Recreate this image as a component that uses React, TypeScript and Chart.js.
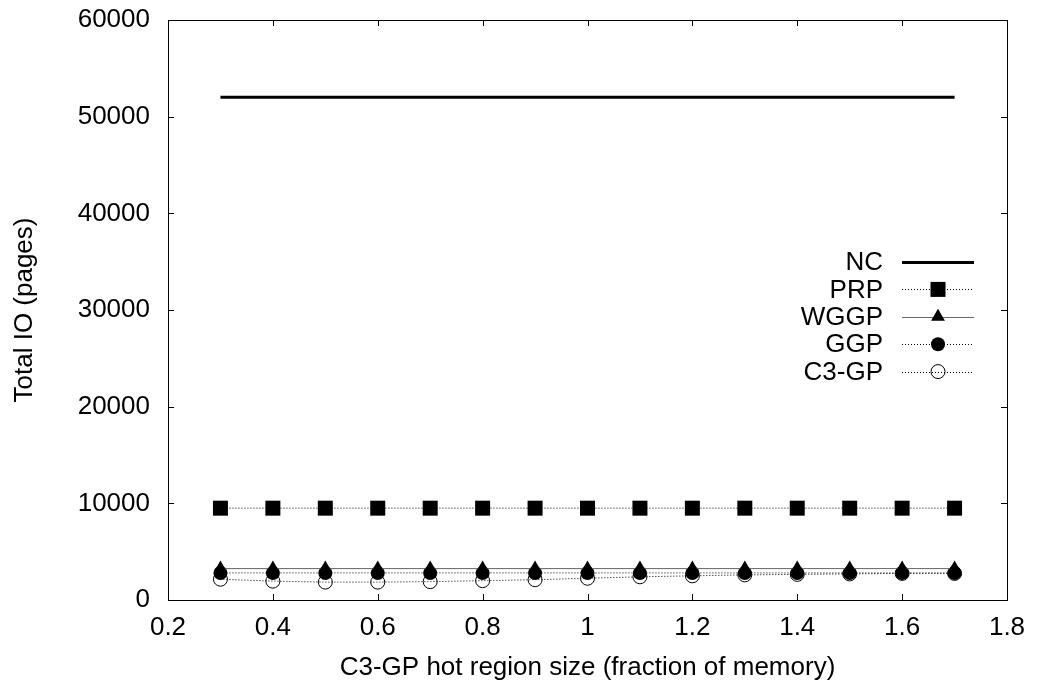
import React, { useEffect, useRef } from 'react';
import { Chart, registerables } from 'chart.js';

Chart.register(...registerables);

// ---- data ----
const hotRegionSize = [0.3, 0.4, 0.5, 0.6, 0.7, 0.8, 0.9, 1.0, 1.1, 1.2, 1.3, 1.4, 1.5, 1.6, 1.7];
const ncIO = [52000, 52000, 52000, 52000, 52000, 52000, 52000, 52000, 52000, 52000, 52000, 52000, 52000, 52000, 52000];
const prpIO = [9500, 9500, 9500, 9500, 9500, 9500, 9500, 9500, 9500, 9500, 9500, 9500, 9500, 9500, 9500];
const wggpIO = [3250, 3250, 3250, 3250, 3250, 3250, 3250, 3250, 3250, 3250, 3250, 3250, 3250, 3250, 3250];
const ggpIO = [2800, 2800, 2800, 2800, 2800, 2800, 2800, 2800, 2800, 2800, 2800, 2800, 2800, 2800, 2800];
const c3gpIO = [2150, 1950, 1850, 1850, 1900, 2000, 2100, 2250, 2400, 2500, 2600, 2650, 2700, 2750, 2750];
const seriesNames = ['NC', 'PRP', 'WGGP', 'GGP', 'C3-GP'];
const xTicks = [0.2, 0.4, 0.6, 0.8, 1.0, 1.2, 1.4, 1.6, 1.8];
const yTicks = [0, 10000, 20000, 30000, 40000, 50000, 60000];

const FONT = '"Liberation Sans", Arial, Helvetica, sans-serif';
const FS = 26;

type Marker = 'none' | 'rect' | 'triangle' | 'circle' | 'openCircle';
const markers: Marker[] = ['none', 'rect', 'triangle', 'circle', 'openCircle'];
const lineWidths = [3, 1, 1, 1, 1];
const lineColors = ['#000', '#000', '#666', '#000', '#000'];
const lineDashes: number[][] = [[], [1, 2], [], [1, 2], [1, 2]];

function drawMarker(ctx: CanvasRenderingContext2D, m: Marker, x: number, y: number) {
  ctx.save();
  ctx.setLineDash([]);
  ctx.fillStyle = '#000';
  ctx.strokeStyle = '#000';
  ctx.lineWidth = 1;
  if (m === 'rect') {
    ctx.fillRect(x - 7.5, y - 7.5, 15, 15);
  } else if (m === 'triangle') {
    const r = 8;
    ctx.beginPath();
    ctx.moveTo(x, y - r);
    ctx.lineTo(x + r * Math.sin((2 * Math.PI) / 3), y - r * Math.cos((2 * Math.PI) / 3));
    ctx.lineTo(x + r * Math.sin((4 * Math.PI) / 3), y - r * Math.cos((4 * Math.PI) / 3));
    ctx.closePath();
    ctx.fill();
  } else if (m === 'circle') {
    ctx.beginPath();
    ctx.arc(x, y, 7, 0, Math.PI * 2);
    ctx.fill();
  } else if (m === 'openCircle') {
    ctx.beginPath();
    ctx.arc(x, y, 7, 0, Math.PI * 2);
    ctx.stroke();
  }
  ctx.restore();
}

const framePlugin = {
  id: 'gnuFrame',
  afterDatasetsDraw(chart: any) {
    const { ctx, chartArea: a, scales } = chart;
    ctx.save();
    ctx.strokeStyle = '#000';
    ctx.lineWidth = 1;
    ctx.setLineDash([]);
    // frame
    ctx.strokeRect(Math.round(a.left) + 0.5, Math.round(a.top) + 0.5, Math.round(a.right - a.left), Math.round(a.bottom - a.top));
    const tl = 6;
    ctx.beginPath();
    xTicks.forEach((v) => {
      const px = Math.round(scales.x.getPixelForValue(v)) + 0.5;
      ctx.moveTo(px, a.bottom);
      ctx.lineTo(px, a.bottom - tl);
      ctx.moveTo(px, a.top);
      ctx.lineTo(px, a.top + tl);
    });
    yTicks.forEach((v) => {
      const py = Math.round(scales.y.getPixelForValue(v)) + 0.5;
      ctx.moveTo(a.left, py);
      ctx.lineTo(a.left + tl, py);
      ctx.moveTo(a.right, py);
      ctx.lineTo(a.right - tl, py);
    });
    ctx.stroke();

    // legend
    const textRight = 883;
    const x0 = 902;
    const x1 = 974;
    const xm = 938;
    ctx.font = `${FS}px ${FONT}`;
    ctx.textAlign = 'right';
    ctx.textBaseline = 'middle';
    ctx.fillStyle = '#000';
    seriesNames.forEach((name, i) => {
      const y = 262 + 27.4 * i;
      ctx.fillText(name, textRight, y + 1);
      ctx.save();
      ctx.strokeStyle = lineColors[i];
      ctx.lineWidth = lineWidths[i];
      ctx.setLineDash(lineDashes[i]);
      ctx.beginPath();
      ctx.moveTo(x0, Math.round(y) + 0.5);
      ctx.lineTo(x1, Math.round(y) + 0.5);
      ctx.stroke();
      ctx.restore();
      drawMarker(ctx, markers[i], xm, y);
    });
    ctx.restore();
  },
};

const seriesValues = [ncIO, prpIO, wggpIO, ggpIO, c3gpIO];

export default function App() {
  const ref = useRef<HTMLCanvasElement | null>(null);

  useEffect(() => {
    if (!ref.current) return;
    const pointStyles: any[] = [false, 'rect', 'triangle', 'circle', 'circle'];
    const pointRadii = [0, 10.6, 8, 7, 7];
    const datasets = seriesNames.map((name, i) => ({
      label: name,
      data: hotRegionSize.map((x, j) => ({ x, y: seriesValues[i][j] })),
      borderColor: lineColors[i],
      borderWidth: lineWidths[i],
      borderDash: lineDashes[i],
      pointStyle: pointStyles[i],
      pointRadius: pointRadii[i],
      pointHoverRadius: pointRadii[i],
      pointBackgroundColor: markers[i] === 'openCircle' ? 'rgba(0,0,0,0)' : '#000',
      pointBorderColor: '#000',
      pointBorderWidth: markers[i] === 'openCircle' ? 1 : 0,
      fill: false,
      tension: 0,
    }));

    const chart = new Chart(ref.current, {
      type: 'line',
      data: { datasets },
      options: {
        animation: false,
        responsive: false,
        devicePixelRatio: 1,
        layout: { padding: { top: 20, right: 30, left: 0, bottom: 0 } },
        plugins: { legend: { display: false }, tooltip: { enabled: false } },
        scales: {
          x: {
            type: 'linear',
            min: 0.2,
            max: 1.8,
            afterBuildTicks: (s: any) => {
              s.ticks = xTicks.map((v) => ({ value: v }));
            },
            afterFit: (s: any) => {
              s.height = 88;
              s.paddingLeft = 0;
              s.paddingRight = 0;
            },
            grid: { display: false, drawTicks: false },
            border: { display: false },
            ticks: {
              color: '#000',
              font: { family: FONT, size: FS },
              padding: 12,
              autoSkip: false,
              maxRotation: 0,
              callback: (v: any) => String(Math.round(Number(v) * 10) / 10),
            },
            title: {
              display: true,
              text: 'C3-GP hot region size (fraction of memory)',
              color: '#000',
              font: { family: FONT, size: FS },
              padding: { top: 0, bottom: 5 },
            },
          },
          y: {
            type: 'linear',
            min: 0,
            max: 60000,
            afterBuildTicks: (s: any) => {
              s.ticks = yTicks.map((v) => ({ value: v }));
            },
            afterFit: (s: any) => {
              s.width = 168;
              s.paddingTop = 0;
              s.paddingBottom = 0;
            },
            grid: { display: false, drawTicks: false },
            border: { display: false },
            ticks: {
              color: '#000',
              font: { family: FONT, size: FS },
              padding: 18,
              autoSkip: false,
              callback: (v: any) => String(v),
            },
            title: {
              display: true,
              text: 'Total IO (pages)',
              color: '#000',
              font: { family: FONT, size: FS },
              padding: { top: 9, bottom: 0 },
            },
          },
        },
      },
      plugins: [framePlugin],
    });
    return () => chart.destroy();
  }, []);

  return (
    <div style={{ position: 'absolute', left: 0, top: 0, width: 1037, height: 688, background: '#fff' }}>
      <canvas ref={ref} width={1037} height={688} />
    </div>
  );
}
